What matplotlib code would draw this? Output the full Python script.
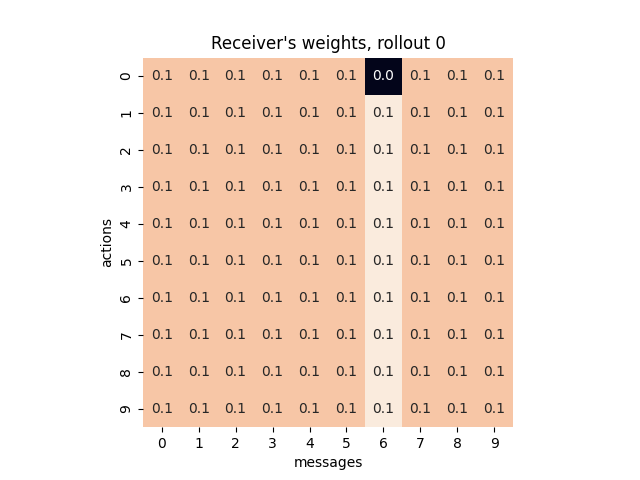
import numpy as np
import matplotlib
matplotlib.use("Agg")
import matplotlib.pyplot as plt
import seaborn as sns

messages = list(range(10))
actions = list(range(10))
# receiver weights: rows = actions, cols = messages
base_weight = 0.1
msg6_weight = 0.111
msg6_action0 = 0.0

weights = np.full((len(actions), len(messages)), base_weight)
weights[:, 6] = msg6_weight
weights[0, 6] = msg6_action0

fig, ax = plt.subplots(figsize=(6.4, 4.8), dpi=100)
sns.heatmap(weights, annot=True, fmt=".1f", cbar=False, square=True,
            xticklabels=messages, yticklabels=actions, ax=ax)
ax.set_title("Receiver's weights, rollout 0")
ax.set_xlabel("messages")
ax.set_ylabel("actions")
fig.savefig("out.png")
